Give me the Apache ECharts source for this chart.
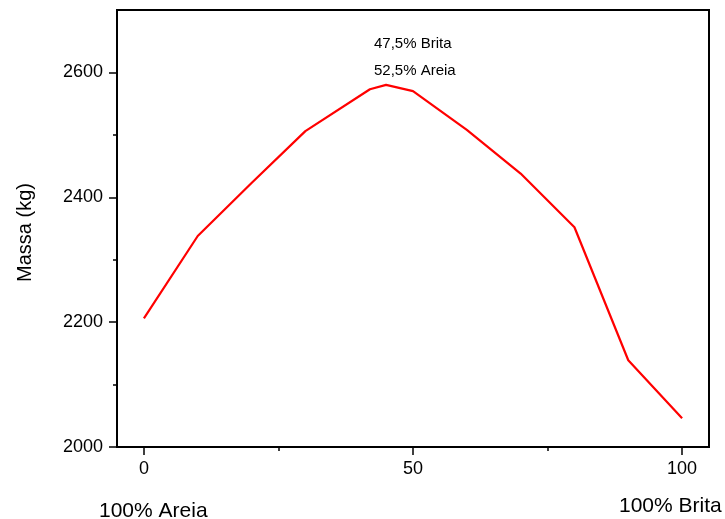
<!DOCTYPE html>
<html>
<head>
<meta charset="utf-8">
<script src="https://cdn.jsdelivr.net/npm/echarts@6/dist/echarts.min.js"></script>
<style>html,body{margin:0;padding:0;background:#fff;}#c{width:725px;height:519px;}</style>
</head>
<body>
<div id="c"></div>
<script>
// Data
const brita = [0, 10, 20, 30, 42, 45, 50, 60, 70, 80, 90, 100];
const massa = [2206, 2338, 2423, 2506, 2573, 2580, 2570, 2508, 2438, 2352, 2139, 2046];
const xMajorTicks = [0, 50, 100];
const xMinorTicks = [25, 75];
const yMajorTicks = [2000, 2200, 2400, 2600];
const yMinorTicks = [2100, 2300, 2500];
const annotation = ['47,5% Brita', '52,5% Areia'];
const leftLabel = '100% Areia';
const rightLabel = '100% Brita';
const yTitle = 'Massa (kg)';

const FONT = 'Liberation Sans, Arial, Helvetica, sans-serif';
const chart = echarts.init(document.getElementById('c'), null, {renderer: 'canvas'});
const lineStyleAxis = {color: '#000', width: 2};
const plain = v => String(v);
chart.setOption({
  animation: false,
  backgroundColor: '#fff',
  grid: {left: 117, top: 10, right: 16, bottom: 72, show: true, borderColor: '#000', borderWidth: 2, backgroundColor: 'transparent'},
  xAxis: [{
    type: 'value', min: -5, max: 105, position: 'bottom',
    axisLine: {show: true, onZero: false, lineStyle: lineStyleAxis},
    axisTick: {show: true, length: 8, customValues: xMajorTicks, lineStyle: {color: '#000', width: 1.5}},
    axisLabel: {customValues: xMajorTicks, formatter: plain, margin: 13, fontSize: 18, color: '#000', fontFamily: FONT},
    splitLine: {show: false}
  }, {
    type: 'value', min: -5, max: 105, position: 'bottom', offset: 0,
    axisLine: {show: false, onZero: false},
    axisTick: {show: true, length: 4, customValues: xMinorTicks, lineStyle: {color: '#000', width: 1.5}},
    axisLabel: {show: false},
    splitLine: {show: false}
  }],
  yAxis: [{
    type: 'value', min: 2000, max: 2700, position: 'left',
    name: yTitle, nameLocation: 'middle', nameRotate: 90, nameGap: 82,
    nameTextStyle: {fontSize: 20, color: '#000', fontFamily: FONT, padding: [0, 8, 0, 0]},
    axisLine: {show: true, onZero: false, lineStyle: lineStyleAxis},
    axisTick: {show: true, length: 8, customValues: yMajorTicks, lineStyle: {color: '#000', width: 1.5}},
    axisLabel: {customValues: yMajorTicks, formatter: plain, margin: 14, fontSize: 18, color: '#000', fontFamily: FONT},
    splitLine: {show: false}
  }, {
    type: 'value', min: 2000, max: 2700, position: 'left', offset: 0,
    axisLine: {show: false, onZero: false},
    axisTick: {show: true, length: 4, customValues: yMinorTicks, lineStyle: {color: '#000', width: 1.5}},
    axisLabel: {show: false},
    splitLine: {show: false}
  }],
  series: [{
    type: 'line',
    data: brita.map((b, i) => [b, massa[i]]),
    showSymbol: false,
    symbol: 'none',
    lineStyle: {color: '#ff0000', width: 2.2},
    z: 3
  }],
  graphic: [
    {type: 'text', left: 374, top: 36, style: {text: annotation[0], font: '15px ' + FONT, fill: '#000'}},
    {type: 'text', left: 374, top: 63, style: {text: annotation[1], font: '15px ' + FONT, fill: '#000'}},
    {type: 'text', left: 99, top: 501, style: {text: leftLabel, font: '21px ' + FONT, fill: '#000'}},
    {type: 'text', left: 619, top: 496, style: {text: rightLabel, font: '21px ' + FONT, fill: '#000'}}
  ]
});
</script>
</body>
</html>
